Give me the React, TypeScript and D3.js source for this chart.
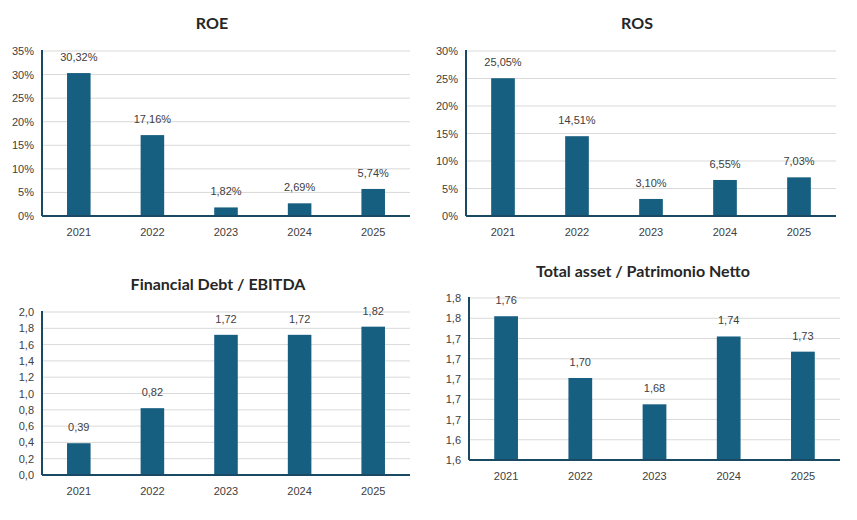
import React from "react";
import * as d3 from "d3";

const years = ["2021", "2022", "2023", "2024", "2025"];
const roe = [30.32, 17.16, 1.82, 2.69, 5.74];
const ros = [25.05, 14.51, 3.1, 6.55, 7.03];
const debtEbitda = [0.39, 0.82, 1.72, 1.72, 1.82];
const assetPn = [1.762, 1.701, 1.675, 1.742, 1.727];

const roeTicks = [0, 5, 10, 15, 20, 25, 30, 35];
const rosTicks = [0, 5, 10, 15, 20, 25, 30];
const debtTicks = d3.range(0, 2.01, 0.2);
const assetTicks = d3.range(1.62, 1.781, 0.02);

const BAR = "#175f80";
const TXT = "#404040";
const comma = (s: string) => s.replace(".", ",");

type P = {
  title: string; tx: number; ty: number;
  x0: number; x1: number; y0: number; y1: number;
  values: number[]; ticks: number[];
  tickFmt: (v: number) => string; labFmt: (v: number) => string;
};

function Panel(p: P) {
  const x = d3.scaleBand().domain(years).range([p.x0, p.x1]).paddingInner(0.68).paddingOuter(0.34);
  const y = d3.scaleLinear().domain([p.ticks[0], p.ticks[p.ticks.length - 1]]).range([p.y1, p.y0]);
  return (
    <g>
      <text x={p.tx} y={p.ty} textAnchor="middle" fontSize={16} fontWeight="bold" fill="#262626" fontFamily="Lato, sans-serif">{p.title}</text>
      {p.ticks.map((t, i) => (
        <g key={i}>
          <line x1={p.x0} x2={p.x1} y1={y(t)} y2={y(t)} stroke="#d9d9d9" strokeWidth={1} />
          <text x={p.x0 - 8} y={y(t) + 4} textAnchor="end" fontSize={11} fill={TXT}>{p.tickFmt(t)}</text>
        </g>
      ))}
      {p.values.map((v, i) => (
        <g key={i}>
          <rect x={x(years[i])} y={y(v)} width={x.bandwidth()} height={p.y1 - y(v)} fill={BAR} />
          <text x={x(years[i])! + x.bandwidth() / 2} y={y(v) - 12} textAnchor="middle" fontSize={11} fill={TXT}>{p.labFmt(v)}</text>
          <text x={x(years[i])! + x.bandwidth() / 2} y={p.y1 + 20} textAnchor="middle" fontSize={11} fill={TXT}>{years[i]}</text>
        </g>
      ))}
      <line x1={p.x0} x2={p.x0} y1={p.y0 - 1} y2={p.y1} stroke="#1a4a63" strokeWidth={2} />
      <line x1={p.x0} x2={p.x1} y1={p.y1} y2={p.y1} stroke="#1a4a63" strokeWidth={2} />
    </g>
  );
}

export default function App() {
  return (
    <svg width={857} height={520} style={{ position: "absolute", left: 0, top: 0, fontFamily: "Liberation Sans, Arial, sans-serif" }}>
      <rect width={857} height={520} fill="#fff" />
      <Panel title="ROE" tx={212} ty={29} x0={42} x1={410} y0={51} y1={216} values={roe} ticks={roeTicks}
        tickFmt={(v) => `${v}%`} labFmt={(v) => comma(v.toFixed(2)) + "%"} />
      <Panel title="ROS" tx={637} ty={29} x0={466} x1={836} y0={51} y1={216} values={ros} ticks={rosTicks}
        tickFmt={(v) => `${v}%`} labFmt={(v) => comma(v.toFixed(2)) + "%"} />
      <Panel title="Financial Debt / EBITDA" tx={218} ty={290} x0={42} x1={410} y0={312} y1={475} values={debtEbitda} ticks={debtTicks}
        tickFmt={(v) => comma(v.toFixed(1))} labFmt={(v) => comma(v.toFixed(2))} />
      <Panel title="Total asset /  Patrimonio Netto" tx={643} ty={277} x0={469} x1={840} y0={298} y1={460} values={assetPn} ticks={assetTicks}
        tickFmt={(v) => comma(v.toFixed(1))} labFmt={(v) => comma(v.toFixed(2))} />
    </svg>
  );
}
